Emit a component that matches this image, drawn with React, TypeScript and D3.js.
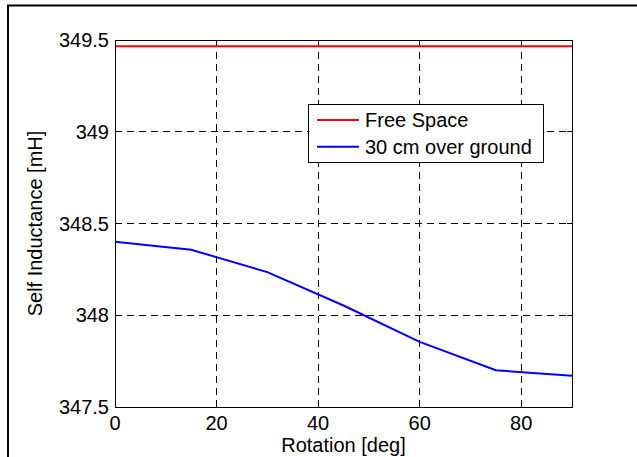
import React from "react";
import * as d3 from "d3";

const rotations = [0, 15, 30, 45, 60, 75, 90];
const freeSpace = [349.466, 349.466, 349.466, 349.466, 349.466, 349.466, 349.466];
const overGround = [348.4, 348.357, 348.235, 348.053, 347.855, 347.7, 347.67];
const xTicks = [0, 20, 40, 60, 80];
const yTicks = [347.5, 348, 348.5, 349, 349.5];
const seriesNames = ["Free Space", "30 cm over ground"];
const seriesColors = ["#ff0000", "#0000ff"];

const W = 637;
const H = 457;
const m = { left: 115, right: 572, top: 40, bottom: 407 };
const FONT = "'Liberation Sans', Arial, Helvetica, sans-serif";

export default function App() {
  const x = d3.scaleLinear().domain([0, 90]).range([m.left, m.right]);
  const y = d3.scaleLinear().domain([347.5, 349.5]).range([m.bottom, m.top]);
  const line = d3
    .line<number>()
    .x((_, i) => x(rotations[i]))
    .y((d) => y(d));
  const series = [freeSpace, overGround];
  const tick = 5;

  return (
    <svg
      width={W}
      height={H}
      style={{ position: "absolute", left: 0, top: 0, background: "#fff" }}
      fontFamily={FONT}
    >
      <rect x={0} y={0} width={W} height={H} fill="#fff" />
      <rect x={8} y={5.5} width={700} height={600} fill="none" stroke="#000" strokeWidth={2} />
      {/* grid */}
      {xTicks
        .filter((t) => t > 0 && t < 90)
        .map((t) => (
          <line
            key={"gx" + t}
            x1={x(t)}
            x2={x(t)}
            y1={m.top}
            y2={m.bottom}
            stroke="#000"
            strokeWidth={1}
            strokeDasharray="7,5"
            shapeRendering="crispEdges"
          />
        ))}
      {yTicks
        .filter((t) => t > 347.5 && t < 349.5)
        .map((t) => (
          <line
            key={"gy" + t}
            x1={m.left}
            x2={m.right}
            y1={y(t)}
            y2={y(t)}
            stroke="#000"
            strokeWidth={1}
            strokeDasharray="7,5"
            shapeRendering="crispEdges"
          />
        ))}
      {/* ticks */}
      {xTicks.map((t) => (
        <g key={"tx" + t}>
          <line x1={x(t)} x2={x(t)} y1={m.bottom} y2={m.bottom - tick} stroke="#000" shapeRendering="crispEdges" />
          <line x1={x(t)} x2={x(t)} y1={m.top} y2={m.top + tick} stroke="#000" shapeRendering="crispEdges" />
          <text x={x(t)} y={m.bottom + 23} textAnchor="middle" fontSize={20} fill="#000">
            {t}
          </text>
        </g>
      ))}
      {yTicks.map((t) => (
        <g key={"ty" + t}>
          <line x1={m.left} x2={m.left + tick} y1={y(t)} y2={y(t)} stroke="#000" shapeRendering="crispEdges" />
          <line x1={m.right} x2={m.right - tick} y1={y(t)} y2={y(t)} stroke="#000" shapeRendering="crispEdges" />
          <text x={m.left - 6} y={y(t) + 7} textAnchor="end" fontSize={20} fill="#000">
            {d3.format("")(t)}
          </text>
        </g>
      ))}
      {/* series */}
      {series.map((s, i) => (
        <path key={"s" + i} d={line(s) || ""} fill="none" stroke={seriesColors[i]} strokeWidth={2} />
      ))}
      {/* axes box */}
      <rect
        x={m.left}
        y={m.top}
        width={m.right - m.left}
        height={m.bottom - m.top}
        fill="none"
        stroke="#000"
        strokeWidth={1}
        shapeRendering="crispEdges"
      />
      {/* labels */}
      <text x={(m.left + m.right) / 2} y={452} textAnchor="middle" fontSize={20} fill="#000">
        Rotation [deg]
      </text>
      <text
        transform={`translate(${42},${(m.top + m.bottom) / 2}) rotate(-90)`}
        textAnchor="middle"
        fontSize={20}
        fill="#000"
      >
        Self Inductance [mH]
      </text>
      {/* legend */}
      <g>
        <rect
          x={308}
          y={104.5}
          width={235}
          height={58}
          fill="#fff"
          stroke="#000"
          strokeWidth={1}
          shapeRendering="crispEdges"
        />
        {seriesNames.map((n, i) => (
          <g key={"l" + i}>
            <line
              x1={317}
              x2={359}
              y1={120 + i * 26.7}
              y2={120 + i * 26.7}
              stroke={seriesColors[i]}
              strokeWidth={2}
            />
            <text x={365} y={127 + i * 26.7} fontSize={20} fill="#000">
              {n}
            </text>
          </g>
        ))}
      </g>
    </svg>
  );
}
